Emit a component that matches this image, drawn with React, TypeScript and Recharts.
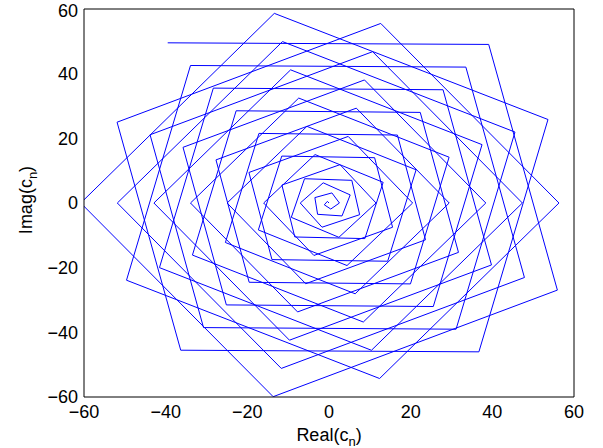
import { LineChart, Line, XAxis, YAxis } from 'recharts';

const realPart = [
  0, -0.4, -1.15, 0.43, 2.56, 0.71, -3.46, -2.79, 3.19, 5.19,
  -1.42, -7.04, -1.71, 7.5, 5.59, -5.99, -9.23, 2.42, 11.52, 2.71,
  -11.53, -8.38, 8.78, 13.26, -3.42, -16.0, -3.7, 15.57, 11.17, -11.57,
  -17.3, 4.41, 20.48, 4.7, -19.61, -13.97, 14.37, 21.33, -5.41, -24.96,
  -5.7, 23.64, 16.76, -17.16, -25.37, 6.41, 29.44, 6.69, -27.68, -19.55,
  19.95, 29.41, -7.41, -33.92, -7.69, 31.71, 22.35, -22.74, -33.44, 8.4,
  38.4, 8.69, -35.75, -25.14, 25.54, 37.48, -9.4, -42.88, -9.68, 39.79,
  27.93, -28.33, -41.52, 10.4, 47.36, 10.68, -43.82, -30.73, 31.12, 45.55,
  -11.39, -51.84, -11.68, 47.86, 33.52, -33.92, -49.59, 12.39, 56.32, 12.67,
  -51.9, -36.31, 36.71, 53.63, -13.39, -60.8, -13.67, 55.93, 39.11, -39.5,
];

const imagPart = [
  0, 0.5, -0.56, -1.87, 0, 3.12, 1.67, -3.5, -4.0, 2.5,
  6.24, 0, -7.49, -3.61, 7.01, 7.51, -4.44, -10.61, 0, 11.86,
  5.55, -10.51, -11.01, 6.39, 14.98, 0, -16.22, -7.5, 14.01, 14.51,
  -8.33, -19.34, 0, 20.59, 9.44, -17.51, -18.01, 10.27, 23.71, 0,
  -24.96, -11.39, 21.02, 21.52, -12.22, -28.08, 0, 29.33, 13.33, -24.52,
  -25.02, 14.16, 32.45, 0, -33.69, -15.27, 28.02, 28.52, -16.11, -36.81,
  0, 38.06, 17.22, -31.52, -32.02, 18.05, 41.18, 0, -42.43, -19.16,
  35.03, 35.53, -19.99, -45.55, 0, 46.8, 21.1, -38.53, -39.03, 21.94,
  49.92, 0, -51.16, -23.05, 42.03, 42.53, -23.88, -54.28, 0, 55.53,
  24.99, -45.53, -46.03, 25.82, 58.65, 0, -59.9, -26.94, 49.04, 49.54,
];

const axisTicks = [-60, -40, -20, 0, 20, 40, 60];

const data = realPart.map((re, i) => ({ re, im: imagPart[i] }));

const FONT = '"Liberation Sans", Arial, Helvetica, sans-serif';
const fmt = (v: number) => (v < 0 ? `\u2212${-v}` : `${v}`);

// MATLAB-style: ticks point inward, box all round
const DOMAIN: [number, number] = [-60, 60];

function XLabel(props: any) {
  const vb = props.viewBox || {};
  const cx = (vb.x ?? 84) + (vb.width ?? 490) / 2;
  return (
    <text x={cx} y={441} textAnchor="middle" fontFamily={FONT} fontSize={18} fill="#000">
      Real(c
      <tspan fontSize={13} dy={5}>n</tspan>
      <tspan dy={-5}>)</tspan>
    </text>
  );
}

function YLabel(props: any) {
  const vb = props.viewBox || {};
  const cy = (vb.y ?? 9) + (vb.height ?? 388) / 2 - 3;
  const bx = 32;
  return (
    <text
      x={bx}
      y={cy}
      transform={`rotate(-90 ${bx} ${cy})`}
      textAnchor="middle"
      fontFamily={FONT}
      fontSize={18}
      fill="#000"
    >
      Imag(c
      <tspan fontSize={13} dy={5}>n</tspan>
      <tspan dy={-5}>)</tspan>
    </text>
  );
}

export default function App() {
  const tickFont = { fontSize: 18, fill: '#000', fontFamily: FONT };
  return (
    <div style={{ position: 'absolute', left: 0, top: 0, width: 603, height: 448, background: '#fff' }}>
      <LineChart width={603} height={448} data={data} margin={{ top: 9, right: 29, bottom: 0, left: 0 }}>
        <XAxis
          xAxisId="b"
          type="number"
          dataKey="re"
          domain={DOMAIN}
          ticks={axisTicks}
          allowDataOverflow
          orientation="bottom"
          height={51}
          tickLine={false}
          tickSize={0}
          tickMargin={8}
          tickFormatter={fmt}
          tick={tickFont}
          axisLine={{ stroke: '#000' }}
          label={XLabel}
        />
        <XAxis
          xAxisId="bm"
          type="number"
          domain={DOMAIN}
          ticks={axisTicks}
          allowDataOverflow
          orientation="bottom"
          mirror
          tick={false}
          tickSize={5}
          axisLine={false}
          tickLine={{ stroke: '#000' }}
        />
        <XAxis
          xAxisId="t"
          type="number"
          domain={DOMAIN}
          ticks={axisTicks}
          allowDataOverflow
          orientation="top"
          mirror
          tick={false}
          tickSize={5}
          axisLine={{ stroke: '#000' }}
          tickLine={{ stroke: '#000' }}
        />
        <YAxis
          yAxisId="l"
          type="number"
          domain={DOMAIN}
          ticks={axisTicks}
          allowDataOverflow
          width={84}
          tickLine={false}
          tickSize={0}
          tickMargin={6}
          tickFormatter={fmt}
          tick={tickFont}
          axisLine={{ stroke: '#000' }}
          label={YLabel}
        />
        <YAxis
          yAxisId="lm"
          type="number"
          domain={DOMAIN}
          ticks={axisTicks}
          allowDataOverflow
          mirror
          tick={false}
          tickSize={5}
          axisLine={false}
          tickLine={{ stroke: '#000' }}
        />
        <YAxis
          yAxisId="r"
          type="number"
          domain={DOMAIN}
          ticks={axisTicks}
          allowDataOverflow
          orientation="right"
          mirror
          tick={false}
          tickSize={5}
          axisLine={{ stroke: '#000' }}
          tickLine={{ stroke: '#000' }}
        />
        <Line
          xAxisId="b"
          yAxisId="l"
          dataKey="im"
          stroke="#0000ff"
          strokeWidth={1}
          dot={false}
          activeDot={false}
          isAnimationActive={false}
        />
      </LineChart>
    </div>
  );
}
